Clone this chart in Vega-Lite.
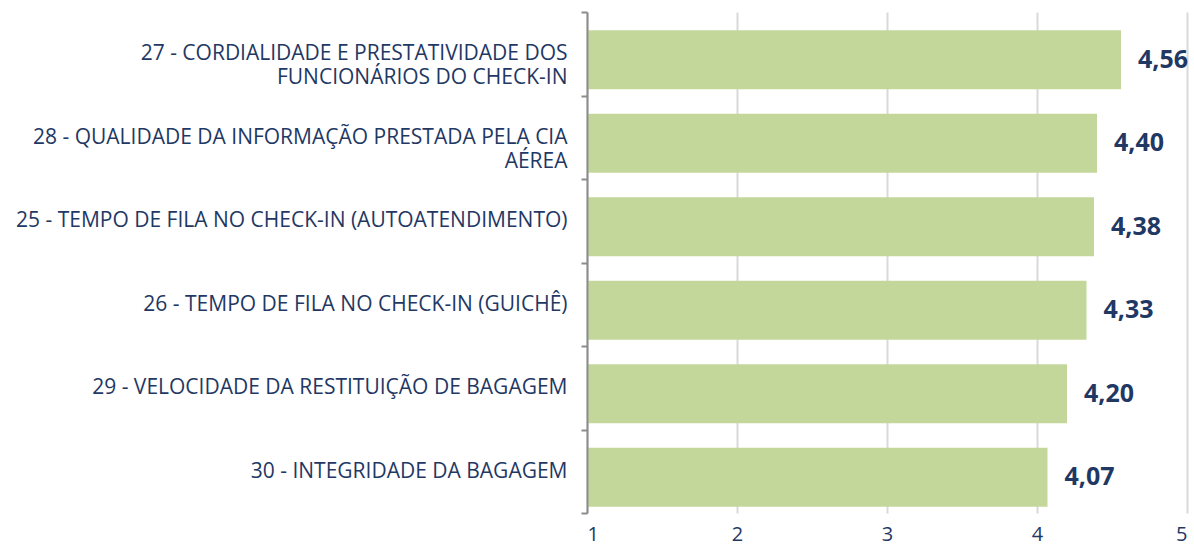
{
  "$schema": "https://vega.github.io/schema/vega-lite/v6.json",
  "autosize": "none",
  "width": 600,
  "height": 501,
  "padding": {"left": 587, "top": 12, "right": 7, "bottom": 34},
  "background": "white",
  "config": {
    "view": {"stroke": null},
    "locale": {"number": {"decimal": ",", "thousands": ".", "grouping": [3], "currency": ["R$", ""]}}
  },
  "data": {"values": [
    {"item": "27 - CORDIALIDADE E PRESTATIVIDADE DOS FUNCIONÁRIOS DO CHECK-IN", "nota": 4.56},
    {"item": "28 - QUALIDADE DA INFORMAÇÃO PRESTADA PELA CIA AÉREA", "nota": 4.40},
    {"item": "25 - TEMPO DE FILA NO CHECK-IN (AUTOATENDIMENTO)", "nota": 4.38},
    {"item": "26 - TEMPO DE FILA NO CHECK-IN (GUICHÊ)", "nota": 4.33},
    {"item": "29 - VELOCIDADE DA RESTITUIÇÃO DE BAGAGEM", "nota": 4.20},
    {"item": "30 - INTEGRIDADE DA BAGAGEM", "nota": 4.07}
  ]},
  "encoding": {
    "y": {
      "field": "item", "type": "nominal", "sort": null,
      "scale": {"paddingInner": 0, "paddingOuter": 0},
      "axis": {
        "title": null, "zindex": 1,
        "domainColor": "#8c8c8c", "domainWidth": 2,
        "tickColor": "#8c8c8c", "tickWidth": 2, "tickSize": 6, "tickBand": "extent",
        "labelFont": "Open Sans", "labelFontSize": 21, "labelColor": "#1f3864",
        "labelLimit": 700, "labelLineHeight": 24, "labelPadding": 14,
        "labelExpr": "datum.value == '27 - CORDIALIDADE E PRESTATIVIDADE DOS FUNCIONÁRIOS DO CHECK-IN' ? ['27 - CORDIALIDADE E PRESTATIVIDADE DOS', pad('FUNCIONÁRIOS DO CHECK-IN', 36, '\u00a0')] : datum.value == '28 - QUALIDADE DA INFORMAÇÃO PRESTADA PELA CIA AÉREA' ? ['28 - QUALIDADE DA INFORMAÇÃO PRESTADA PELA CIA', pad('AÉREA', 48, '\u00a0')] : datum.label"
      }
    }
  },
  "layer": [
    {
      "mark": {"type": "bar", "color": "#c4d79b", "height": 59, "yOffset": 6},
      "encoding": {
        "x": {
          "field": "nota", "type": "quantitative",
          "scale": {"domain": [1, 5], "nice": false, "zero": false},
          "axis": {
            "title": null, "values": [1, 2, 3, 4, 5], "format": "d",
            "domain": false, "ticks": false,
            "grid": true, "gridColor": "#d9d9d9", "gridWidth": 2,
            "labelFont": "Open Sans", "labelFontSize": 20, "labelColor": "#1f3864",
            "labelPadding": 11
          }
        },
        "x2": {"datum": 1}
      }
    },
    {
      "mark": {"type": "text", "align": "left", "baseline": "middle", "dx": 17, "dy": 6, "font": "Open Sans", "fontSize": 25, "fontWeight": "bold", "color": "#1f3864"},
      "encoding": {
        "x": {"field": "nota", "type": "quantitative"},
        "text": {"field": "nota", "type": "quantitative", "format": ".2f"}
      }
    }
  ]
}
